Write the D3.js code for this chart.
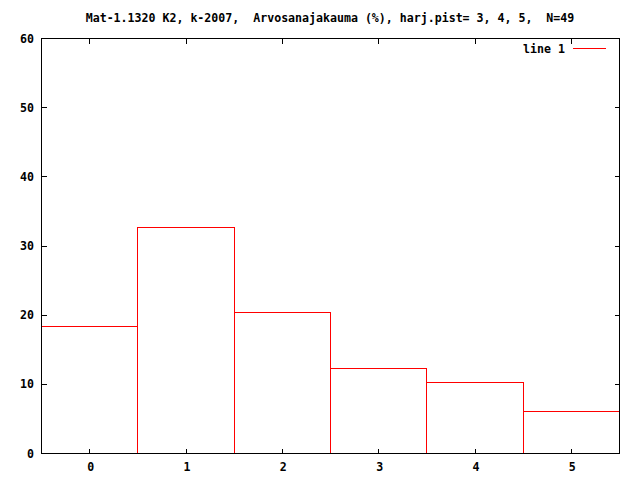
<!DOCTYPE html>
<html><head><meta charset="utf-8">
<script src="https://cdn.jsdelivr.net/npm/d3@7"></script>
<style>
html,body{margin:0;padding:0;background:#fff;}
svg{display:block;}
text{font-family:"DejaVu Sans Mono",monospace;font-weight:bold;font-size:11.6px;fill:#000;}
</style>
</head><body>
<script>
const categories = [0, 1, 2, 3, 4, 5];
const values = [18.37, 32.65, 20.41, 12.24, 10.20, 6.12];
const yTicks = [0, 10, 20, 30, 40, 50, 60];
const titleText = "Mat-1.1320 K2, k-2007,  Arvosanajakauma (%), harj.pist= 3, 4, 5,  N=49";
const legendLabel = "line 1";

const W = 640, H = 480;
const L = 41.5, R = 619.5, T = 38.5, B = 453.5;
const s = v => Math.floor(v) + 0.5;

const svg = d3.select("body").append("svg").attr("width", W).attr("height", H)
  .attr("shape-rendering", "crispEdges");

const x = d3.scaleLinear().domain([-0.5, 5.5]).range([L, R]);
const y = d3.scaleLinear().domain([0, 60]).range([B, T]);

// boxes
svg.append("g").selectAll("rect").data(categories).join("rect")
  .attr("x", d => s(x(d - 0.5)))
  .attr("y", (d, i) => s(y(values[i])))
  .attr("width", d => s(x(d + 0.5)) - s(x(d - 0.5)))
  .attr("height", (d, i) => s(B) - s(y(values[i])))
  .attr("fill", "none").attr("stroke", "#ff0000").attr("stroke-width", 1);

// ticks
const tickLen = 5;
const g = svg.append("g").attr("stroke", "#000").attr("stroke-width", 1);
yTicks.forEach(v => {
  const yy = s(y(v));
  g.append("line").attr("x1", L).attr("x2", L + tickLen).attr("y1", yy).attr("y2", yy);
  g.append("line").attr("x1", R).attr("x2", R - tickLen).attr("y1", yy).attr("y2", yy);
});
categories.forEach(c => {
  const xx = s(x(c));
  g.append("line").attr("x1", xx).attr("x2", xx).attr("y1", B).attr("y2", B - tickLen);
  g.append("line").attr("x1", xx).attr("x2", xx).attr("y1", T).attr("y2", T + tickLen);
});

// border
svg.append("rect").attr("x", L).attr("y", T).attr("width", R - L).attr("height", B - T)
  .attr("fill", "none").attr("stroke", "#000").attr("stroke-width", 1);

// tick labels
svg.append("g").selectAll("text").data(yTicks).join("text")
  .attr("x", 34).attr("y", d => y(d)).attr("dy", "0.35em")
  .attr("text-anchor", "end").text(d => d);
svg.append("g").selectAll("text").data(categories).join("text")
  .attr("x", d => x(d) + 1).attr("y", 467).attr("dy", "0.35em")
  .attr("text-anchor", "middle").text(d => d);

// title
svg.append("text").attr("x", 330).attr("y", 18).attr("dy", "0.35em")
  .attr("text-anchor", "middle").attr("xml:space", "preserve").style("white-space", "pre").text(titleText);

// legend
svg.append("text").attr("x", 565).attr("y", 49).attr("dy", "0.35em")
  .attr("text-anchor", "end").text(legendLabel);
svg.append("line").attr("x1", 573).attr("x2", 606).attr("y1", 48.5).attr("y2", 48.5)
  .attr("stroke", "#ff0000").attr("stroke-width", 1);
</script>
</body></html>
